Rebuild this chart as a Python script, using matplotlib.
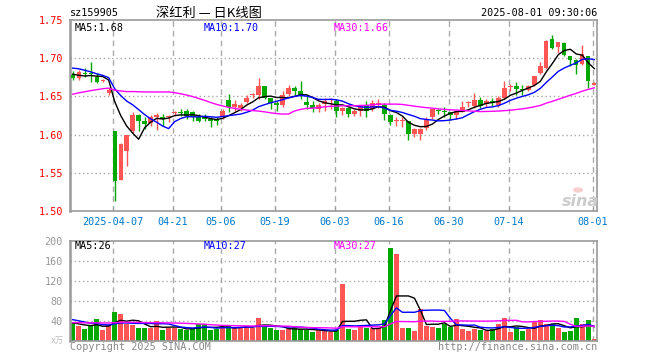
import matplotlib
matplotlib.use("Agg")
import matplotlib.pyplot as plt
import numpy as np
import pandas as pd
from matplotlib.patches import Circle

plt.rcParams['font.family'] = ['DejaVu Sans Mono', 'Noto Sans CJK SC']

# trading days 2025-03-26 .. 2025-08-01 (SZ exchange holidays removed)
holidays = ['2025-04-04', '2025-05-01', '2025-05-02', '2025-05-05', '2025-06-02']
dates = pd.bdate_range('2025-03-26', '2025-08-01', freq='C', holidays=holidays)
label_dates = ['2025-04-07', '2025-04-21', '2025-05-06', '2025-05-19', '2025-06-03',
               '2025-06-16', '2025-06-30', '2025-07-14', '2025-08-01']

opens = [1.6785, 1.6745, 1.6805, 1.681, 1.6754, 1.6705, 1.654, 1.6048, 1.541, 1.5785,
         1.605, 1.6255, 1.6175, 1.615, 1.6225, 1.623, 1.6225, 1.628, 1.630, 1.631,
         1.629, 1.6235, 1.6235, 1.621, 1.620, 1.6225, 1.6455, 1.6355, 1.635, 1.643,
         1.6515, 1.652, 1.663, 1.6475, 1.642, 1.6385, 1.6535, 1.6605, 1.6575, 1.643,
         1.6385, 1.6335, 1.6395, 1.645, 1.6445, 1.6305, 1.635, 1.6265, 1.6305, 1.6385,
         1.6335, 1.6385, 1.6385, 1.6255, 1.618, 1.618, 1.618, 1.6005, 1.6005, 1.608,
         1.6235, 1.6315, 1.6315, 1.629, 1.6255, 1.630, 1.641, 1.6375, 1.6455, 1.640,
         1.644, 1.6385, 1.6475, 1.6625, 1.663, 1.660, 1.6585, 1.6645, 1.6805, 1.687,
         1.7255, 1.7145, 1.720, 1.7025, 1.697, 1.6925, 1.7025, 1.665]
highs = [1.683, 1.685, 1.687, 1.6955, 1.680, 1.673, 1.661, 1.6048, 1.5895, 1.600,
         1.629, 1.627, 1.6235, 1.6255, 1.628, 1.6265, 1.6255, 1.6315, 1.634, 1.634,
         1.6315, 1.6265, 1.6265, 1.6235, 1.6235, 1.6335, 1.653, 1.6455, 1.642, 1.652,
         1.6545, 1.6735, 1.663, 1.6485, 1.644, 1.6575, 1.665, 1.664, 1.6705, 1.651,
         1.644, 1.642, 1.6485, 1.6485, 1.6465, 1.6365, 1.6365, 1.633, 1.6385, 1.644,
         1.6455, 1.6465, 1.641, 1.6265, 1.6235, 1.6235, 1.618, 1.609, 1.609, 1.6235,
         1.634, 1.634, 1.6365, 1.630, 1.631, 1.644, 1.644, 1.6545, 1.6495, 1.6465,
         1.6485, 1.651, 1.6705, 1.6665, 1.669, 1.665, 1.6645, 1.677, 1.6945, 1.7235,
         1.7305, 1.721, 1.721, 1.7035, 1.699, 1.7175, 1.7025, 1.6685]
lows = [1.672, 1.672, 1.675, 1.669, 1.667, 1.669, 1.652, 1.5127, 1.5403, 1.5585,
        1.6025, 1.605, 1.607, 1.6115, 1.6055, 1.6115, 1.6165, 1.6245, 1.6245, 1.621,
        1.618, 1.6165, 1.618, 1.6105, 1.6125, 1.620, 1.630, 1.631, 1.631, 1.641,
        1.6485, 1.647, 1.6465, 1.6335, 1.631, 1.6365, 1.6505, 1.652, 1.6465, 1.6335,
        1.630, 1.630, 1.631, 1.6335, 1.6235, 1.6255, 1.6235, 1.625, 1.625, 1.6235,
        1.631, 1.6345, 1.6195, 1.612, 1.611, 1.6105, 1.5935, 1.597, 1.5935, 1.6065,
        1.621, 1.6265, 1.6235, 1.6195, 1.621, 1.629, 1.6355, 1.635, 1.635, 1.6355,
        1.6375, 1.6355, 1.6465, 1.6575, 1.652, 1.652, 1.6575, 1.6635, 1.679, 1.6865,
        1.7115, 1.707, 1.7035, 1.690, 1.679, 1.691, 1.6605, 1.6645]
closes = [1.674, 1.6815, 1.679, 1.679, 1.669, 1.672, 1.658, 1.539, 1.5873, 1.600,
          1.6255, 1.618, 1.614, 1.6235, 1.6255, 1.621, 1.6245, 1.630, 1.628, 1.6245,
          1.6235, 1.618, 1.621, 1.618, 1.618, 1.6315, 1.6355, 1.640, 1.6385, 1.6475,
          1.652, 1.663, 1.6475, 1.642, 1.6385, 1.652, 1.6605, 1.6575, 1.652, 1.6385,
          1.635, 1.6385, 1.6445, 1.6455, 1.631, 1.635, 1.6265, 1.6305, 1.6385, 1.631,
          1.642, 1.641, 1.6265, 1.6165, 1.6185, 1.6185, 1.6005, 1.607, 1.607, 1.6205,
          1.634, 1.631, 1.629, 1.6255, 1.631, 1.6355, 1.6415, 1.6455, 1.6375, 1.6445,
          1.6415, 1.6475, 1.6605, 1.663, 1.6595, 1.659, 1.663, 1.677, 1.690, 1.722,
          1.713, 1.721, 1.7045, 1.698, 1.691, 1.7055, 1.6705, 1.667]
# closes of the 29 sessions before the window, only used to seed the moving averages
prior_closes = [1.630, 1.636, 1.634, 1.631, 1.635, 1.635, 1.618, 1.620, 1.625, 1.622,
                1.628, 1.620, 1.624, 1.626, 1.621, 1.624, 1.660, 1.668, 1.676, 1.684,
                1.690, 1.698, 1.700, 1.694, 1.693, 1.688, 1.684, 1.676, 1.673]

volumes = [36.7, 29.3, 23.3, 30, 43.3, 21.3, 31.3, 57.3, 53.3, 34.7,
           31.3, 25.3, 25.3, 26, 39.3, 21.3, 26.7, 26.7, 23.3, 22.7,
           23.3, 34, 34, 22, 23.3, 29.3, 29.3, 26.7, 26.7, 30,
           26.7, 45.3, 31.3, 25.3, 21.3, 21.3, 24.7, 28, 23.3, 21.3,
           17.3, 21.3, 21.3, 18, 21.3, 113.3, 23.3, 21.3, 28, 25.3,
           25.3, 25.3, 41.3, 185.3, 173.3, 25.3, 25.3, 19.3, 64, 30.7,
           28.7, 25.3, 33.3, 28, 43.3, 23.3, 19.3, 23.3, 21.3, 19.3,
           24.7, 34.7, 45.3, 18, 28, 19.3, 23.3, 38, 41.3, 33.3,
           34.7, 25.3, 18, 20, 45.3, 33.3, 41.3, 3.3]
prior_volumes = [30, 36, 32, 35, 31, 38, 33, 29, 34, 37, 32, 35, 30, 36, 33,
                 34, 31, 38, 33, 37, 52, 48, 55, 45, 47, 38, 34, 37, 34.3]

header_ma = ['MA5:1.68', 'MA10:1.70', 'MA30:1.66']
header_vol = ['MA5:26', 'MA10:27', 'MA30:27']

UP, DOWN = '#ff5555', '#00a800'
MA_COLORS = ['black', '#0000ff', '#ff00ff']
GRID = '#aaaaaa'
W, H = 660, 360


def box(l, t, r, b):
    return [l / W, 1 - b / H, (r - l) / W, (b - t) / H]


def ma(series, prior, n):
    s = pd.Series(list(prior) + list(series))
    return s.rolling(n).mean().to_numpy()[len(prior):]


o, h, l, c = map(np.array, (opens, highs, lows, closes))
v = np.array(volumes)
x = np.arange(len(c))
up = c >= o
cols = np.where(up, UP, DOWN)
tick_idx = [dates.get_loc(pd.Timestamp(d)) for d in label_dates]
tick_pos = np.array(tick_idx) - 0.3
tick_lab = [label_dates[0]] + [d[5:] for d in label_dates[1:]]

fig = plt.figure(figsize=(6.6, 3.6), dpi=100)
ax = fig.add_axes(box(70, 20, 597, 211))
axv = fig.add_axes(box(70, 241, 597, 341))

for a in (ax, axv):
    a.set_xlim(-0.45, len(c) - 0.55)
    for sp in a.spines.values():
        sp.set_color('#999999')
        sp.set_linewidth(1.2)
    a.spines['left'].set_linewidth(1.8)
    for p in tick_pos:
        a.axvline(p, color=GRID, lw=1, ls=(0, (4, 3)), zorder=0)

# price panel
ax.set_ylim(1.50, 1.75)
for y in [1.55, 1.60, 1.65, 1.70]:
    ax.axhline(y, color=GRID, lw=1, ls=(0, (1, 2)), zorder=0)
ax.vlines(x, l, h, colors=cols, lw=1, zorder=2)
body = np.maximum(np.abs(c - o), 0.0012)
ax.bar(x, body, bottom=np.minimum(o, c), width=0.72, color=cols, lw=0, zorder=3)
for n, col in zip([5, 10, 30], MA_COLORS):
    ax.plot(x, ma(c, prior_closes, n), color=col, lw=1, zorder=4)
ax.set_yticks([1.50, 1.55, 1.60, 1.65, 1.70, 1.75])
ax.set_yticklabels(['%.2f' % t for t in ax.get_yticks()])
ax.tick_params(axis='y', length=0, labelcolor='red', labelsize=7.3, pad=5)
ax.set_xticks(tick_pos)
ax.set_xticklabels(tick_lab)
ax.tick_params(axis='x', direction='in', length=3, color='#999999',
               labelcolor='#0078c8', labelsize=7.3, pad=4)

# volume panel
axv.set_ylim(0, 200)
for y in [40, 80, 120, 160]:
    axv.axhline(y, color=GRID, lw=1, ls=(0, (1, 2)), zorder=0)
axv.bar(x, v, width=0.75, color=cols, lw=0, zorder=2)
for n, col in zip([5, 10, 30], MA_COLORS):
    axv.plot(x, ma(v, prior_volumes, n), color=col, lw=1, zorder=4)
axv.set_yticks([40, 80, 120, 160, 200])
axv.tick_params(axis='y', length=0, labelcolor='#999999', labelsize=7.3, pad=5)
axv.set_xticks([])

# texts
fs = 7.3
fig.text(70 / W, 1 - 13 / H, 'sz159905', fontsize=fs, va='center', ha='left')
fig.text(209 / W, 1 - 13 / H, '深红利 — 日K线图', fontsize=9.5, va='center', ha='center',
         family=['Noto Sans CJK SC', 'DejaVu Sans'])
fig.text(597 / W, 1 - 13 / H, '2025-08-01 09:30:06', fontsize=fs, va='center', ha='right')
for txt, col, px in zip(header_ma, MA_COLORS, [75, 204, 334]):
    fig.text(px / W, 1 - 28 / H, txt, color=col, fontsize=fs, va='center', ha='left')
for txt, col, px in zip(header_vol, MA_COLORS, [75, 204, 334]):
    fig.text(px / W, 1 - 246 / H, txt, color=col, fontsize=fs, va='center', ha='left')
fig.text(64 / W, 1 - 340 / H, 'x万', color='#bbbbbb', fontsize=6, va='center', ha='right',
         family=['DejaVu Sans', 'Noto Sans CJK SC'])
fig.text(70 / W, 1 - 347 / H, 'Copyright 2025 SINA.COM', color='#888888', fontsize=fs,
         va='center', ha='left')
fig.text(597 / W, 1 - 347 / H, 'http://finance.sina.com.cn', color='#888888', fontsize=fs,
         va='center', ha='right')

# sina watermark
fig.patches.append(Circle((578 / W, 1 - 190 / H), 5 / W, transform=fig.transFigure,
                          facecolor='#f6c4c4', edgecolor='none', alpha=0.8))
fig.text(580 / W, 1 - 201 / H, 'sina', color='#cccccc', fontsize=11.5, fontweight='bold',
         style='italic', va='center', ha='center', family='DejaVu Sans')

fig.savefig('out.png', dpi=100)
